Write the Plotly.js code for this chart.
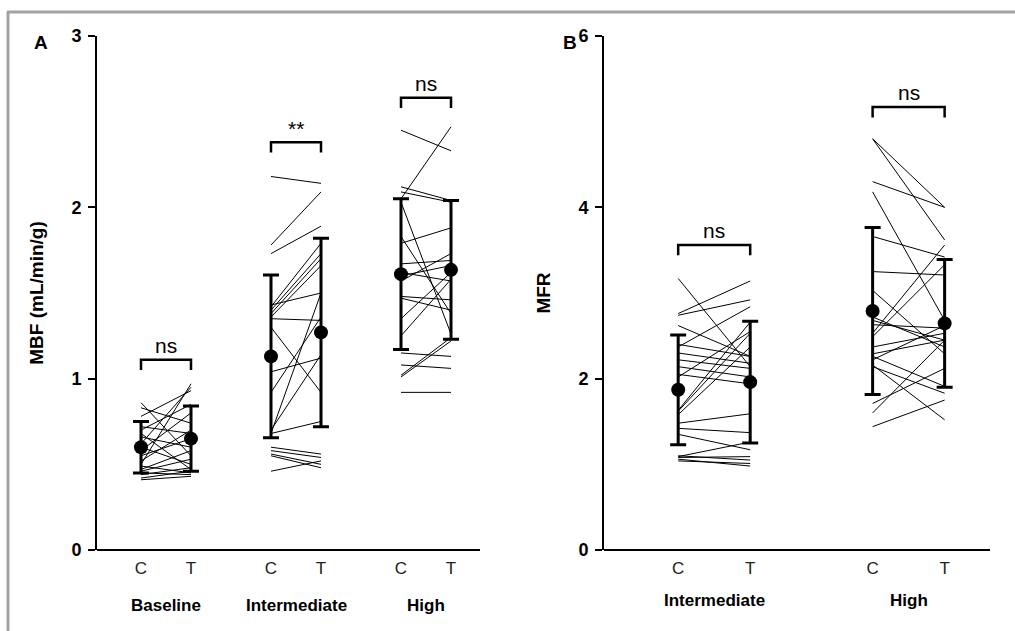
<!DOCTYPE html>
<html>
<head>
<meta charset="utf-8">
<script src="https://cdn.plot.ly/plotly-3.0.1.min.js"></script>
<style>html,body{margin:0;padding:0;background:#fff}#chart{width:1015px;height:631px}</style>
</head>
<body>
<div id="chart"></div>
<script>
// ---------- Panel A: MBF (mL/min/g) ----------
const groupsA = ['Baseline', 'Intermediate', 'High'];
const conditionLabels = ['C', 'T'];
const xPosA_C = [1, 3.6, 6.2];
const xPosA_T = [2, 4.6, 7.2];
const yTicksA = [0, 1, 2, 3];
const yTicksB = [0, 2, 4, 6];

const mbfBaselineC = [0.86, 0.83, 0.78, 0.72, 0.70, 0.68, 0.66, 0.62, 0.60, 0.58, 0.55, 0.52, 0.50, 0.49, 0.47, 0.46, 0.45, 0.44, 0.42, 0.41];
const mbfBaselineT = [0.55, 0.74, 0.93, 0.68, 0.85, 0.47, 0.60, 0.95, 0.50, 0.80, 0.65, 0.70, 0.97, 0.45, 0.58, 0.53, 0.44, 0.48, 0.46, 0.43];

const mbfInterC = [2.18, 1.78, 1.73, 1.42, 1.40, 1.38, 1.36, 1.43, 1.35, 1.30, 1.04, 0.92, 0.70, 0.68, 0.68, 0.60, 0.58, 0.56, 0.46, 0.55];
const mbfInterT = [2.14, 2.09, 1.89, 1.79, 1.73, 1.70, 1.66, 1.50, 1.34, 0.92, 1.12, 1.36, 1.14, 0.75, 1.50, 0.56, 0.54, 0.50, 0.52, 0.48];

const mbfHighC = [2.45, 2.05, 2.12, 2.09, 2.03, 1.83, 1.79, 1.67, 1.62, 1.57, 1.48, 1.47, 1.35, 1.25, 1.15, 1.08, 1.02, 1.01, 0.92, 1.60];
const mbfHighT = [2.33, 2.47, 2.04, 2.03, 1.26, 1.38, 1.88, 1.69, 1.57, 1.73, 1.46, 1.40, 1.62, 1.58, 1.13, 1.06, 1.24, 1.22, 0.92, 1.66];

const mbfMeanC = [0.60, 1.13, 1.61];
const mbfSdC   = [0.15, 0.475, 0.44];
const mbfMeanT = [0.65, 1.27, 1.635];
const mbfSdT   = [0.19, 0.55, 0.405];

const sigLevelA = [1.11, 2.38, 2.64];
const sigTextA  = ['ns', '**', 'ns'];

// ---------- Panel B: MFR ----------
const groupsB = ['Intermediate', 'High'];
const xPosB_C = [1, 3.7];
const xPosB_T = [2, 4.7];

const mfrInterC = [3.17, 2.76, 2.74, 2.62, 2.37, 2.40, 2.30, 2.22, 2.14, 2.02, 2.05, 1.63, 1.62, 1.58, 1.48, 1.42, 1.35, 1.09, 1.08, 1.06, 1.04, 1.10];
const mfrInterT = [2.14, 3.14, 2.92, 2.26, 2.84, 2.26, 2.18, 2.12, 2.02, 2.55, 1.94, 2.66, 2.53, 2.37, 1.59, 1.37, 1.17, 1.26, 1.09, 0.98, 1.01, 1.05];

const mfrHighC = [4.80, 4.80, 4.30, 4.18, 3.66, 3.25, 3.03, 2.72, 2.68, 2.63, 2.53, 2.49, 2.37, 2.29, 2.26, 2.22, 2.14, 2.16, 1.71, 1.60, 1.44];
const mfrHighT = [4.00, 3.62, 4.00, 2.68, 3.42, 3.21, 2.29, 2.37, 2.45, 2.59, 3.56, 3.33, 2.53, 2.45, 1.91, 2.62, 1.83, 1.52, 2.12, 2.45, 1.75];

const mfrMeanC = [1.87, 2.79];
const mfrSdC   = [0.64, 0.975];
const mfrMeanT = [1.96, 2.645];
const mfrSdT   = [0.71, 0.745];

const sigLevelB = [3.56, 5.17];
const sigTextB  = ['ns', 'ns'];

// ---------- helpers ----------
const FONT = 'Liberation Sans, Arial, sans-serif';

function pairTrace(xc, xt, cv, tv, xa, ya) {
  const xs = [], ys = [];
  for (let i = 0; i < cv.length; i++) {
    xs.push(xc, xt, null);
    ys.push(cv[i], tv[i], null);
  }
  return {type: 'scatter', mode: 'lines', x: xs, y: ys, xaxis: xa, yaxis: ya,
          line: {color: '#000', width: 1}, hoverinfo: 'skip', showlegend: false};
}
function meanTrace(xs, means, sds, xa, ya) {
  return {type: 'scatter', mode: 'markers', x: xs, y: means, xaxis: xa, yaxis: ya,
          marker: {color: '#000', size: 14},
          error_y: {type: 'data', array: sds, visible: true, color: '#000', thickness: 3, width: 8},
          showlegend: false};
}

const traces = [
  pairTrace(xPosA_C[0], xPosA_T[0], mbfBaselineC, mbfBaselineT, 'x', 'y'),
  pairTrace(xPosA_C[1], xPosA_T[1], mbfInterC, mbfInterT, 'x', 'y'),
  pairTrace(xPosA_C[2], xPosA_T[2], mbfHighC, mbfHighT, 'x', 'y'),
  pairTrace(xPosB_C[0], xPosB_T[0], mfrInterC, mfrInterT, 'x2', 'y2'),
  pairTrace(xPosB_C[1], xPosB_T[1], mfrHighC, mfrHighT, 'x2', 'y2'),
  meanTrace(xPosA_C, mbfMeanC, mbfSdC, 'x', 'y'),
  meanTrace(xPosA_T, mbfMeanT, mbfSdT, 'x', 'y'),
  meanTrace(xPosB_C, mfrMeanC, mfrSdC, 'x2', 'y2'),
  meanTrace(xPosB_T, mfrMeanT, mfrSdT, 'x2', 'y2')
];

const shapes = [];
const annotations = [];

function addBrackets(xc, xt, levels, texts, leg, xa, ya) {
  for (let i = 0; i < levels.length; i++) {
    const L = levels[i];
    shapes.push({type: 'path', xref: xa, yref: ya,
      path: `M ${xc[i]} ${L - leg} L ${xc[i]} ${L} L ${xt[i]} ${L} L ${xt[i]} ${L - leg}`,
      line: {color: '#000', width: 2.5}});
    annotations.push({xref: xa, yref: ya, x: (xc[i] + xt[i]) / 2, y: L, text: texts[i],
      showarrow: false, xanchor: 'center', yanchor: 'bottom', yshift: texts[i] === '**' ? 0 : 1,
      font: {family: FONT, size: 21, color: '#000'}});
  }
}
addBrackets(xPosA_C, xPosA_T, sigLevelA, sigTextA, 0.06, 'x', 'y');
addBrackets(xPosB_C, xPosB_T, sigLevelB, sigTextB, 0.12, 'x2', 'y2');

// group labels
groupsA.forEach((g, i) => annotations.push({xref: 'x', yref: 'paper', x: (xPosA_C[i] + xPosA_T[i]) / 2,
  y: 1 - 605 / 631, text: '<b>' + g + '</b>', showarrow: false, xanchor: 'center', yanchor: 'middle',
  font: {family: FONT, size: 17, color: '#000'}}));
groupsB.forEach((g, i) => annotations.push({xref: 'x2', yref: 'paper', x: (xPosB_C[i] + xPosB_T[i]) / 2,
  y: 1 - 600 / 631, text: '<b>' + g + '</b>', showarrow: false, xanchor: 'center', yanchor: 'middle',
  font: {family: FONT, size: 17, color: '#000'}}));

// panel letters
annotations.push({xref: 'paper', yref: 'paper', x: 41 / 1015, y: 1 - 42 / 631, text: '<b>A</b>', showarrow: false,
  xanchor: 'center', yanchor: 'middle', font: {family: FONT, size: 19, color: '#000'}});
annotations.push({xref: 'paper', yref: 'paper', x: 570 / 1015, y: 1 - 42 / 631, text: '<b>B</b>', showarrow: false,
  xanchor: 'center', yanchor: 'middle', font: {family: FONT, size: 19, color: '#000'}});

// gray frame
shapes.push({type: 'line', xref: 'paper', yref: 'paper', x0: 7 / 1015, x1: 1, y0: 1 - 12 / 631, y1: 1 - 12 / 631,
  line: {color: '#a3a3a3', width: 3}});
shapes.push({type: 'line', xref: 'paper', yref: 'paper', x0: 8 / 1015, x1: 8 / 1015, y0: 0, y1: 1 - 12 / 631,
  line: {color: '#a3a3a3', width: 3}});

const yDom = [1 - 550 / 631, 1 - 36 / 631];
const xAxisCommon = {
  showline: true, linecolor: '#000', linewidth: 2, showgrid: false, zeroline: false,
  ticks: '', ticklabelstandoff: 3,
  tickfont: {family: FONT, size: 17, color: '#222'}, anchor: 'free', fixedrange: true
};
const yAxisCommon = {
  showline: true, linecolor: '#000', linewidth: 2, showgrid: false, zeroline: false,
  ticks: 'outside', ticklen: 7, tickwidth: 2, tickcolor: '#000', ticklabelstandoff: 3,
  tickfont: {family: FONT, size: 18, color: '#000'}, domain: yDom
};

const layout = {
  width: 1015, height: 631,
  margin: {l: 0, r: 0, t: 0, b: 0},
  paper_bgcolor: '#fff', plot_bgcolor: '#fff',
  showlegend: false,
  xaxis: Object.assign({}, xAxisCommon, {
    domain: [97 / 1015, 480 / 1015], range: [0.12, 7.78], position: yDom[0],
    tickvals: xPosA_C.concat(xPosA_T),
    ticktext: xPosA_C.map(() => conditionLabels[0]).concat(xPosA_T.map(() => conditionLabels[1]))
  }),
  yaxis: Object.assign({}, yAxisCommon, {
    range: [0, 3], tickvals: yTicksA, ticktext: yTicksA.map(v => '<b>' + v + '</b>'), anchor: 'x',
    title: {text: '<b>MBF (mL/min/g)</b>', standoff: 23, font: {family: FONT, size: 19, color: '#000'}}
  }),
  xaxis2: Object.assign({}, xAxisCommon, {
    domain: [604 / 1015, 990 / 1015], range: [-0.03, 5.33], position: yDom[0],
    tickvals: xPosB_C.concat(xPosB_T),
    ticktext: xPosB_C.map(() => conditionLabels[0]).concat(xPosB_T.map(() => conditionLabels[1]))
  }),
  yaxis2: Object.assign({}, yAxisCommon, {
    range: [0, 6], tickvals: yTicksB, ticktext: yTicksB.map(v => '<b>' + v + '</b>'), anchor: 'x2',
    title: {text: '<b>MFR</b>', standoff: 23, font: {family: FONT, size: 19, color: '#000'}}
  }),
  shapes: shapes,
  annotations: annotations
};

Plotly.newPlot('chart', traces, layout, {displayModeBar: false, staticPlot: true});
</script>
</body>
</html>
